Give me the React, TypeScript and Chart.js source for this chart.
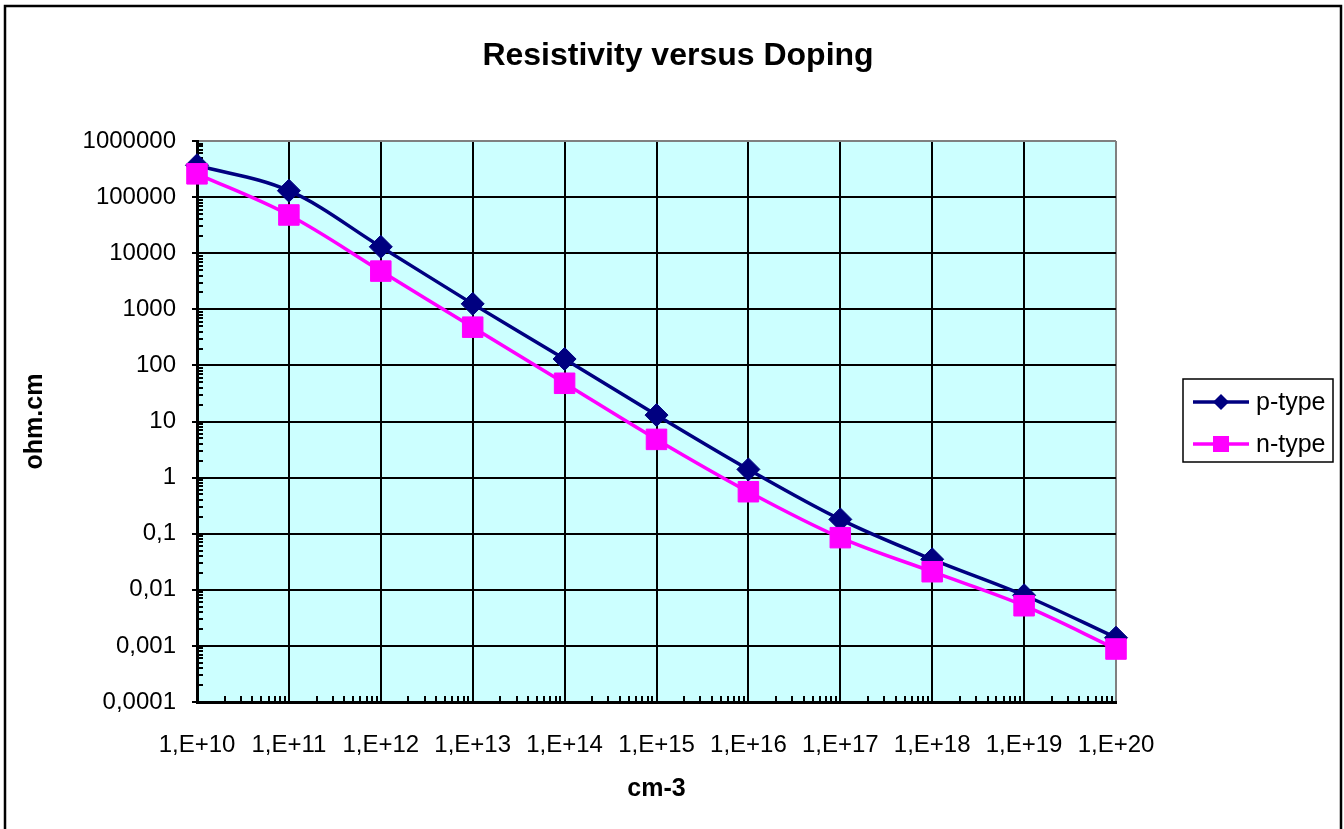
import { useEffect, useRef } from "react";
import { Chart, registerables } from "chart.js";

Chart.register(...registerables);

const FONT = "'Liberation Sans', Arial, sans-serif";

// Doping concentration (cm-3)
const dopings = [1e10, 1e11, 1e12, 1e13, 1e14, 1e15, 1e16, 1e17, 1e18, 1e19, 1e20];
// Resistivity (ohm.cm)
const pType = [3.7e5, 1.3e5, 1.3e4, 1250, 130, 13, 1.4, 0.18, 0.035, 0.008, 0.0014];
const nType = [2.6e5, 4.8e4, 4800, 480, 48, 4.8, 0.56, 0.085, 0.021, 0.0052, 0.00088];

const xTickValues = [1e10, 1e11, 1e12, 1e13, 1e14, 1e15, 1e16, 1e17, 1e18, 1e19, 1e20];
const xTickLabels = ["1,E+10", "1,E+11", "1,E+12", "1,E+13", "1,E+14", "1,E+15", "1,E+16", "1,E+17", "1,E+18", "1,E+19", "1,E+20"];
const yTickValues = [1e-4, 1e-3, 1e-2, 1e-1, 1, 10, 100, 1000, 1e4, 1e5, 1e6];
const yTickLabels = ["0,0001", "0,001", "0,01", "0,1", "1", "10", "100", "1000", "10000", "100000", "1000000"];

const chartTitle = "Resistivity versus Doping";
const seriesNames = ["p-type", "n-type"];
const seriesColors = ["#000080", "#FF00FF"];

const decorPlugin = {
  id: "decor",
  beforeDraw(chart: any) {
    const { ctx, chartArea: a } = chart;
    ctx.save();
    ctx.fillStyle = "#ffffff";
    ctx.fillRect(0, 0, chart.width, chart.height);
    ctx.fillStyle = "#CCFFFF";
    ctx.fillRect(a.left, a.top, a.right - a.left, a.bottom - a.top);
    ctx.restore();
  },
  beforeDatasetsDraw(chart: any) {
    const { ctx, chartArea: a } = chart;
    const xs = chart.scales.x;
    const ys = chart.scales.y;
    ctx.save();
    ctx.strokeStyle = "#000";
    ctx.lineWidth = 2;
    ctx.beginPath();
    for (let i = 0; i < xTickValues.length - 1; i++) {
      for (let k = 2; k <= 9; k++) {
        const px = Math.round(xs.getPixelForValue(k * xTickValues[i]));
        ctx.moveTo(px, a.bottom);
        ctx.lineTo(px, a.bottom - 6);
      }
    }
    for (let i = 0; i < yTickValues.length - 1; i++) {
      for (let k = 2; k <= 9; k++) {
        const py = Math.round(ys.getPixelForValue(k * yTickValues[i]));
        ctx.moveTo(a.left, py);
        ctx.lineTo(a.left + 6, py);
      }
    }
    ctx.stroke();
    ctx.restore();
  },
  afterDraw(chart: any) {
    const { ctx } = chart;
    ctx.save();
    // title
    ctx.fillStyle = "#000";
    ctx.font = `bold 32px ${FONT}`;
    ctx.textAlign = "center";
    ctx.textBaseline = "middle";
    ctx.fillText(chartTitle, 678, 56);
    // legend
    const bx = 1183, by = 379, bw = 150, bh = 83;
    ctx.strokeStyle = "#000";
    ctx.lineWidth = 1.5;
    ctx.strokeRect(bx, by, bw, bh);
    const rows = [402, 444];
    rows.forEach((ry, i) => {
      ctx.strokeStyle = seriesColors[i];
      ctx.lineWidth = 3.5;
      ctx.beginPath();
      ctx.moveTo(1193, ry);
      ctx.lineTo(1249, ry);
      ctx.stroke();
      ctx.fillStyle = seriesColors[i];
      if (i === 0) {
        ctx.beginPath();
        ctx.moveTo(1221 - 8, ry);
        ctx.lineTo(1221, ry - 8);
        ctx.lineTo(1221 + 8, ry);
        ctx.lineTo(1221, ry + 8);
        ctx.closePath();
        ctx.fill();
      } else {
        ctx.fillRect(1221 - 8, ry - 8, 16, 16);
      }
      ctx.fillStyle = "#000";
      ctx.font = `25px ${FONT}`;
      ctx.textBaseline = "middle";
      ctx.textAlign = "left";
      ctx.fillText(seriesNames[i], 1256, ry + 1);
    });
    // outer frame
    ctx.strokeStyle = "#000";
    ctx.lineWidth = 2.5;
    ctx.strokeRect(5, 6, 1336, 900);
    ctx.restore();
  },
};

export default function App() {
  const ref = useRef<HTMLCanvasElement | null>(null);
  useEffect(() => {
    if (!ref.current) return;
    const chart = new Chart(ref.current, {
      type: "line",
      data: {
        datasets: [
          {
            label: seriesNames[0],
            data: dopings.map((x, i) => ({ x, y: pType[i] })),
            borderColor: seriesColors[0],
            backgroundColor: seriesColors[0],
            borderWidth: 3.5,
            tension: 0.35,
            pointStyle: "rectRot",
            pointRadius: 11.5,
            pointBorderWidth: 1,
            pointBackgroundColor: seriesColors[0],
            pointBorderColor: seriesColors[0],
            clip: false as any,
            order: 2,
          },
          {
            label: seriesNames[1],
            data: dopings.map((x, i) => ({ x, y: nType[i] })),
            borderColor: seriesColors[1],
            backgroundColor: seriesColors[1],
            borderWidth: 3.5,
            tension: 0.35,
            pointStyle: "rect",
            pointRadius: 14.5,
            pointBorderWidth: 1,
            pointBackgroundColor: seriesColors[1],
            pointBorderColor: seriesColors[1],
            clip: false as any,
            order: 1,
          },
        ],
      },
      options: {
        responsive: false,
        animation: false,
        events: [],
        devicePixelRatio: 1,
        layout: { padding: { left: 0, right: 228, top: 141, bottom: 0 } },
        plugins: {
          legend: { display: false },
          tooltip: { enabled: false },
          title: { display: false },
        },
        scales: {
          x: {
            type: "logarithmic",
            min: 1e10,
            max: 1e20,
            afterBuildTicks: (s: any) => {
              s.ticks = xTickValues.map((v) => ({ value: v }));
            },
            afterFit: (s: any) => {
              s.height = 127;
            },
            ticks: {
              autoSkip: false,
              maxRotation: 0,
              minRotation: 0,
              padding: 29,
              color: "#000",
              font: { family: FONT, size: 24 },
              callback: (_v: any, i: number) => xTickLabels[i],
            },
            grid: {
              drawTicks: false,
              lineWidth: 2,
              color: (c: any) => (c.index === xTickValues.length - 1 ? "#808080" : "#000"),
            },
            border: { display: true, color: "#000", width: 3 },
            title: {
              display: true,
              text: "cm-3",
              color: "#000",
              font: { family: FONT, size: 25, weight: "bold", lineHeight: 1.2 },
              padding: { top: 0, bottom: 25 },
            },
          },
          y: {
            type: "logarithmic",
            min: 1e-4,
            max: 1e6,
            afterBuildTicks: (s: any) => {
              s.ticks = yTickValues.map((v) => ({ value: v }));
            },
            afterFit: (s: any) => {
              s.width = 197;
            },
            ticks: {
              autoSkip: false,
              padding: 16,
              color: "#000",
              font: { family: FONT, size: 24 },
              callback: (_v: any, i: number) => yTickLabels[i],
            },
            grid: {
              drawTicks: true,
              tickLength: 5,
              tickWidth: 2,
              tickColor: "#000",
              lineWidth: 2,
              color: (c: any) => (c.index === yTickValues.length - 1 ? "#808080" : "#000"),
            },
            border: { display: true, color: "#000", width: 3 },
            title: {
              display: true,
              text: "ohm.cm",
              color: "#000",
              font: { family: FONT, size: 25, weight: "bold", lineHeight: 1.2 },
              padding: { top: 20, bottom: 0 },
            },
          },
        },
      } as any,
      plugins: [decorPlugin],
    });
    return () => chart.destroy();
  }, []);
  return (
    <canvas
      ref={ref}
      width={1344}
      height={829}
      style={{ position: "fixed", left: 0, top: 0, width: 1344, height: 829, display: "block" }}
    />
  );
}
